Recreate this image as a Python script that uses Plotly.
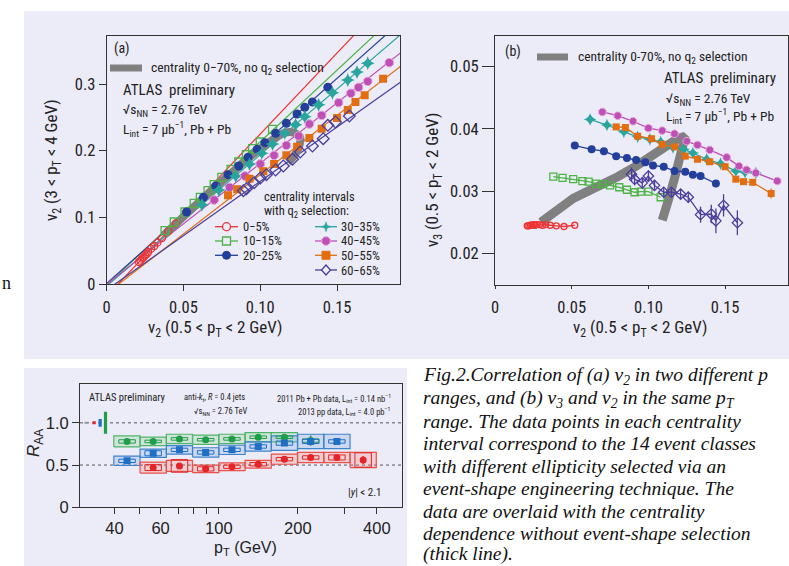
import math
import plotly.graph_objects as go

W, H = 789, 566
def PX(x): return x / W
def PY(y): return 1 - y / H

NARROW = "Liberation Sans Narrow, Roboto Condensed, Arial Narrow, Roboto, sans-serif"
SANS = "Liberation Sans, Arial, sans-serif"
SERIF = "Liberation Serif, Times New Roman, serif"
INK = "#222222"
LAV = "#ECECF8"

# ---------------- Panels (a) and (b): 14 event classes per centrality interval ----------------
cent_labels = ["0−5%", "10−15%", "20−25%", "30−35%", "40−45%", "50−55%", "60−65%"]
cent_colors = ["#EE3333", "#4DB345", "#233E9B", "#2AA59E", "#BE4FB4", "#E36E12", "#4A3F9C"]

# v2 (0.5 < pT < 2 GeV)  -> x of both panels
v2low_0_5   = [0.021, 0.022, 0.023, 0.024, 0.025, 0.026, 0.027, 0.029, 0.031, 0.033, 0.036, 0.040, 0.045, 0.052]
v2low_10_15 = [0.038, 0.044, 0.051, 0.057, 0.061, 0.066, 0.070, 0.075, 0.081, 0.086, 0.091, 0.095, 0.100, 0.108]
v2low_20_25 = [0.052, 0.063, 0.071, 0.079, 0.086, 0.092, 0.098, 0.103, 0.110, 0.117, 0.124, 0.129, 0.134, 0.144]
v2low_30_35 = [0.062, 0.073, 0.084, 0.093, 0.101, 0.108, 0.116, 0.123, 0.129, 0.138, 0.147, 0.157, 0.163, 0.170]
v2low_40_45 = [0.070, 0.080, 0.090, 0.100, 0.109, 0.117, 0.125, 0.132, 0.140, 0.151, 0.159, 0.164, 0.170, 0.184]
v2low_50_55 = [0.079, 0.085, 0.093, 0.102, 0.109, 0.117, 0.124, 0.132, 0.140, 0.150, 0.157, 0.162, 0.168, 0.180]
v2low_60_65 = [0.089, 0.091, 0.096, 0.100, 0.104, 0.110, 0.115, 0.121, 0.126, 0.134, 0.141, 0.144, 0.149, 0.158]

# v2 (3 < pT < 4 GeV) -> y of panel (a)
v2high_0_5   = [0.033, 0.035, 0.038, 0.040, 0.043, 0.045, 0.048, 0.053, 0.057, 0.062, 0.069, 0.079, 0.091, 0.108]
v2high_10_15 = [0.080, 0.093, 0.108, 0.121, 0.130, 0.140, 0.149, 0.160, 0.172, 0.183, 0.194, 0.203, 0.213, 0.232]
v2high_20_25 = [0.108, 0.130, 0.147, 0.164, 0.177, 0.190, 0.202, 0.212, 0.226, 0.241, 0.255, 0.265, 0.273, 0.295]
v2high_30_35 = [0.119, 0.141, 0.162, 0.180, 0.196, 0.210, 0.226, 0.239, 0.251, 0.269, 0.287, 0.306, 0.318, 0.331]
v2high_40_45 = [0.126, 0.145, 0.162, 0.180, 0.193, 0.208, 0.222, 0.240, 0.253, 0.272, 0.286, 0.295, 0.304, 0.332]
v2high_50_55 = [0.133, 0.142, 0.158, 0.169, 0.180, 0.193, 0.206, 0.219, 0.233, 0.249, 0.261, 0.273, 0.283, 0.308]
v2high_60_65 = [0.140, 0.143, 0.152, 0.159, 0.164, 0.171, 0.177, 0.187, 0.198, 0.207, 0.218, 0.238, 0.243, 0.252]

# v3 (0.5 < pT < 2 GeV) -> y of panel (b)
v3_0_5   = [0.0244, 0.0244, 0.0245, 0.0245, 0.0246, 0.0245, 0.0246, 0.0246, 0.0245, 0.0246, 0.0245, 0.0244, 0.0243, 0.0245]
v3_10_15 = [0.0323, 0.0321, 0.0319, 0.0316, 0.0315, 0.0312, 0.0311, 0.0309, 0.0306, 0.0302, 0.0298, 0.0299, 0.0299, 0.0290]
v3_20_25 = [0.0373, 0.0367, 0.0364, 0.0356, 0.0353, 0.0350, 0.0346, 0.0341, 0.0339, 0.0332, 0.0331, 0.0326, 0.0324, 0.0312]
v3_30_35 = [0.0415, 0.0406, 0.0395, 0.0387, 0.0383, 0.0379, 0.0370, 0.0367, 0.0361, 0.0351, 0.0344, 0.0332, 0.0330, 0.0329]
v3_40_45 = [0.0427, 0.0421, 0.0412, 0.0401, 0.0397, 0.0392, 0.0380, 0.0374, 0.0366, 0.0354, 0.0340, 0.0334, 0.0329, 0.0316]
v3_50_55 = [0.0403, 0.0402, 0.0388, 0.0384, 0.0375, 0.0371, 0.0356, 0.0351, 0.0347, 0.0339, 0.0319, 0.0315, 0.0314, 0.0296]
v3_60_65 = [0.0327, 0.0319, 0.0313, 0.0324, 0.0309, 0.0298, 0.0298, 0.0295, 0.0290, 0.0262, 0.0263, 0.0252, 0.0277, 0.0249]
v3err_50_55 = [0.0002, 0.0002, 0.0002, 0.0002, 0.0002, 0.0002, 0.0002, 0.0002, 0.0003, 0.0003, 0.0005, 0.0005, 0.0005, 0.0008]
v3err_60_65 = [0.0011, 0.0010, 0.0009, 0.0009, 0.0009, 0.0008, 0.0008, 0.0008, 0.0009, 0.0013, 0.0015, 0.0020, 0.0018, 0.0020]

# linear fits in panel (a)
fit_slope     = [2.43, 2.15, 2.05, 1.97, 1.815, 1.78, 1.63]
fit_intercept = [-0.018, -0.0017, 0.001, -0.003, -0.0005, -0.014, -0.009]

# centrality dependence without q2 selection (thick grey line)
nosel_a_v2low  = [0.037, 0.045, 0.055, 0.065, 0.075, 0.085, 0.095, 0.103, 0.110, 0.116, 0.122, 0.126, 0.1255, 0.122, 0.118]
nosel_a_v2high = [0.073, 0.090, 0.112, 0.133, 0.154, 0.174, 0.194, 0.208, 0.219, 0.227, 0.227, 0.220, 0.208, 0.192, 0.182]
nosel_b_v2low  = [0.030, 0.040, 0.051, 0.060, 0.069, 0.080, 0.092, 0.102, 0.112, 0.119, 0.124, 0.121, 0.117, 0.113, 0.109]
nosel_b_v3     = [0.0250, 0.0270, 0.0288, 0.0299, 0.0309, 0.0323, 0.0340, 0.0357, 0.0374, 0.0384, 0.0388, 0.0355, 0.0320, 0.0285, 0.0253]

v2low_all  = [v2low_0_5, v2low_10_15, v2low_20_25, v2low_30_35, v2low_40_45, v2low_50_55, v2low_60_65]
v2high_all = [v2high_0_5, v2high_10_15, v2high_20_25, v2high_30_35, v2high_40_45, v2high_50_55, v2high_60_65]
v3_all     = [v3_0_5, v3_10_15, v3_20_25, v3_30_35, v3_40_45, v3_50_55, v3_60_65]
v3err_all  = [None, None, None, None, None, v3err_50_55, v3err_60_65]

marker_styles = [
    dict(symbol="circle-open", size=7, line=dict(width=1.3)),
    dict(symbol="square-open", size=8, line=dict(width=1.3)),
    dict(symbol="circle", size=9),
    dict(symbol="star-diamond", size=10),
    dict(symbol="octagon", size=9, line=dict(width=1, color="#E6A6DC")),
    dict(symbol="square", size=8),
    dict(symbol="diamond-open", size=9, line=dict(width=1.3)),
]

# ---------------- Panel (c): jet R_AA ----------------
pt_edges   = [39.8, 50.1, 63.1, 79.4, 100.0, 125.9, 158.5, 199.5, 251.2, 316.2, 398.1]
pt_centers = [44.7, 56.2, 70.8, 89.1, 112.2, 141.3, 177.8, 223.9, 281.8, 354.8]

green_pt   = [44.7, 56.2, 70.8, 89.1, 112.2, 141.3, 177.8, 223.9]
green_raa  = [0.78, 0.78, 0.81, 0.80, 0.81, 0.83, 0.83, 0.79]
green_stat = [0.02, 0.02, 0.025, 0.02, 0.025, 0.02, 0.03, 0.06]
green_box  = [0.02, 0.015, 0.015, 0.015, 0.015, 0.015, 0.015, 0.02]
green_sys  = [0.065, 0.05, 0.055, 0.055, 0.055, 0.055, 0.055, None]

blue_pt   = [44.7, 56.2, 70.8, 89.1, 112.2, 141.3, 177.8, 223.9, 281.8]
blue_raa  = [0.55, 0.64, 0.68, 0.65, 0.68, 0.72, 0.76, 0.78, 0.78]
blue_stat = [0.015, 0.02, 0.015, 0.015, 0.015, 0.015, 0.02, 0.03, 0.035]
blue_box  = [0.02, 0.03, 0.02, 0.02, 0.02, 0.02, 0.025, 0.025, 0.02]
blue_sys  = [0.055, 0.05, 0.05, 0.055, 0.055, 0.055, 0.085, 0.085, 0.085]

red_pt   = [56.2, 70.8, 89.1, 112.2, 141.3, 177.8, 223.9, 281.8, 354.8]
red_raa  = [0.47, 0.49, 0.455, 0.48, 0.51, 0.57, 0.59, 0.59, 0.56]
red_stat = [0.015, 0.02, 0.015, 0.015, 0.015, 0.015, 0.02, 0.025, 0.045]
red_box  = [0.035, 0.075, 0.025, 0.02, 0.02, 0.02, 0.02, 0.03, 0.085]
red_sys  = [0.065, 0.065, 0.045, 0.045, 0.045, 0.06, 0.06, 0.06, 0.09]

norm_pt     = [31.2, 33.5, 35.3, 37.0]
norm_err    = [0.012, 0.018, 0.045, 0.13]
norm_colors = ["#9A9A9A", "#E32428", "#1F6FC4", "#1E9E48"]
ref_levels  = [1.0, 0.5]

raa_series = [
    dict(pt=green_pt, raa=green_raa, stat=green_stat, box=green_box, sys=green_sys,
         color="#1E9E48", fill="rgba(150,210,150,0.30)", edge="#4DB56A", symbol="circle"),
    dict(pt=blue_pt, raa=blue_raa, stat=blue_stat, box=blue_box, sys=blue_sys,
         color="#1F6FC4", fill="rgba(130,165,225,0.30)", edge="#3F82CC", symbol="square"),
    dict(pt=red_pt, raa=red_raa, stat=red_stat, box=red_box, sys=red_sys,
         color="#E32428", fill="rgba(245,140,125,0.30)", edge="#E8504A", symbol="circle"),
]

fig = go.Figure()

# ---- panel (a) ----
for i in range(7):
    xs = [0.0, 0.2]
    ys = [fit_intercept[i] + fit_slope[i] * x for x in xs]
    fig.add_trace(go.Scatter(x=xs, y=ys, mode="lines", line=dict(color=cent_colors[i], width=1.2),
                             xaxis="x", yaxis="y", hoverinfo="skip"))
fig.add_trace(go.Scatter(x=nosel_a_v2low, y=nosel_a_v2high, mode="lines",
                         line=dict(color="#808080", width=8, shape="spline"), xaxis="x", yaxis="y"))
for i in range(7):
    m = dict(marker_styles[i]); m["color"] = cent_colors[i]
    fig.add_trace(go.Scatter(x=v2low_all[i], y=v2high_all[i], mode="markers", marker=m,
                             name=cent_labels[i], xaxis="x", yaxis="y"))

# ---- panel (b) ----
fig.add_trace(go.Scatter(x=nosel_b_v2low, y=nosel_b_v3, mode="lines",
                         line=dict(color="#808080", width=9), xaxis="x2", yaxis="y2"))
for i in range(7):
    m = dict(marker_styles[i]); m["color"] = cent_colors[i]
    m["size"] = m["size"] - 1
    err = v3err_all[i]
    fig.add_trace(go.Scatter(x=v2low_all[i], y=v3_all[i], mode="lines+markers", marker=m,
                             line=dict(color=cent_colors[i], width=1.3), name=cent_labels[i],
                             error_y=(dict(type="data", array=err, color=cent_colors[i], thickness=1.3, width=0)
                                      if err else None),
                             xaxis="x2", yaxis="y2"))

# ---- panel (c) ----
for s in raa_series:
    bx, by = [], []
    for c, r, e in zip(s["pt"], s["raa"], s["sys"]):
        if e is None:
            continue
        k = pt_centers.index(c)
        lo, hi = pt_edges[k], pt_edges[k + 1]
        bx += [lo, hi, hi, lo, lo, None]
        by += [r - e, r - e, r + e, r + e, r - e, None]
    fig.add_trace(go.Scatter(x=bx, y=by, mode="lines", fill="toself", fillcolor=s["fill"],
                             line=dict(color=s["edge"], width=1.2), xaxis="x3", yaxis="y3", hoverinfo="skip"))
for s in raa_series:
    qx, qy = [], []
    for c, r, b in zip(s["pt"], s["raa"], s["box"]):
        lo, hi = c / 1.075, c * 1.075
        qx += [lo, hi, hi, lo, lo, None]
        qy += [r - b, r - b, r + b, r + b, r - b, None]
    fig.add_trace(go.Scatter(x=qx, y=qy, mode="lines", line=dict(color=s["color"], width=1),
                             xaxis="x3", yaxis="y3", hoverinfo="skip"))
    fig.add_trace(go.Scatter(x=s["pt"], y=s["raa"], mode="markers",
                             marker=dict(symbol=s["symbol"], size=7, color=s["color"]),
                             error_y=dict(type="data", array=s["stat"], color=s["color"], thickness=1.6, width=0),
                             xaxis="x3", yaxis="y3"))
for p, e, c in zip(norm_pt, norm_err, norm_colors):
    fig.add_trace(go.Scatter(x=[p, p], y=[1 - e, 1 + e], mode="lines", line=dict(color=c, width=3.2),
                             xaxis="x3", yaxis="y3", hoverinfo="skip"))

# ---------------- layout ----------------
axc = dict(showline=True, linecolor="#333", linewidth=1, mirror=True, ticks="outside",
           tickcolor="#333", showgrid=False, zeroline=False, automargin=False)
tf_ab = dict(family=NARROW, size=16.5, color=INK)
tf_c = dict(family=SANS, size=16.5, color=INK)

fig.update_layout(
    width=W, height=H, autosize=False, margin=dict(l=0, r=0, t=0, b=0, pad=0, autoexpand=False),
    paper_bgcolor="white", plot_bgcolor="rgba(0,0,0,0)", showlegend=False,
    xaxis=dict(axc, domain=[PX(106.7), PX(400)], anchor="y", range=[0, 0.191],
               tickvals=[0, 0.05, 0.10, 0.15], ticktext=["0", "0.05", "0.10", "0.15"],
               ticklen=6, tickfont=tf_ab, ticklabelstandoff=2),
    yaxis=dict(axc, domain=[PY(284), PY(36)], anchor="x", range=[0, 0.372],
               tickvals=[0, 0.1, 0.2, 0.3], ticktext=["0", "0.1", "0.2", "0.3"], ticklen=7, tickfont=tf_ab),
    xaxis2=dict(axc, domain=[PX(495), PX(788)], anchor="y2", range=[0, 0.191],
                tickvals=[0, 0.05, 0.10, 0.15], ticktext=["0", "0.05", "0.10", "0.15"],
                ticklen=3, tickfont=tf_ab, ticklabelstandoff=4),
    yaxis2=dict(axc, domain=[PY(285), PY(36)], anchor="x2", range=[0.0149, 0.0549],
                tickvals=[0.02, 0.03, 0.04, 0.05], ticktext=["0.02", "0.03", "0.04", "0.05"],
                ticklen=12, tickfont=tf_ab),
    xaxis3=dict(axc, domain=[PX(80), PX(402)], anchor="y3", type="log", range=[1.471, 2.698],
                tickvals=[40, 50, 60, 70, 80, 90, 100, 200, 300, 400],
                ticktext=["40", "", "60", "", "", "", "100", "200", "", "400"],
                ticklen=6, tickfont=tf_c, ticklabelstandoff=0),
    yaxis3=dict(axc, domain=[PY(507.3), PY(384)], anchor="x3", range=[0, 1.46],
                tickvals=[0, 0.5, 1.0], ticktext=["0", "0.5", "1.0"], ticklen=7, tickfont=tf_c),
)

shapes = [
    dict(type="rect", xref="paper", yref="paper", x0=PX(24), x1=1, y0=PY(359), y1=PY(11),
         fillcolor=LAV, line=dict(width=0), layer="below"),
    dict(type="rect", xref="paper", yref="paper", x0=PX(24), x1=PX(407), y0=0, y1=PY(368),
         fillcolor=LAV, line=dict(width=0), layer="below"),
]
for lv in ref_levels:
    shapes.append(dict(type="line", xref="x3 domain", yref="y3", x0=0, x1=1, y0=lv, y1=lv,
                       line=dict(color="#555", width=1, dash="dot"), layer="below"))

# grey "no q2 selection" legend swatches
for (x0, x1, yy) in [(110, 142, 68), (537, 568, 57)]:
    shapes.append(dict(type="line", xref="paper", yref="paper", x0=PX(x0), x1=PX(x1), y0=PY(yy), y1=PY(yy),
                       line=dict(color="#808080", width=7)))

def poly_path(pts):
    return "M" + "L".join(f"{PX(x):.5f},{PY(y):.5f}" for x, y in pts) + "Z"

def legend_marker(kind, cx, cy, color):
    r = 4
    box = dict(xref="paper", yref="paper", x0=PX(cx - r), x1=PX(cx + r), y0=PY(cy + r), y1=PY(cy - r))
    if kind == "circle-open":
        return dict(type="circle", line=dict(color=color, width=1.3), fillcolor=LAV, **box)
    if kind == "square-open":
        return dict(type="rect", line=dict(color=color, width=1.3), fillcolor=LAV, **box)
    if kind == "circle":
        return dict(type="circle", line=dict(color=color, width=1), fillcolor=color, **box)
    if kind == "square":
        return dict(type="rect", line=dict(color=color, width=1), fillcolor=color, **box)
    if kind == "star-diamond":
        pts = []
        for k in range(8):
            a = math.pi / 2 + k * math.pi / 4
            rr = 5 if k % 2 == 0 else 1.8
            pts.append((cx + rr * math.cos(a), cy - rr * math.sin(a)))
        return dict(type="path", xref="paper", yref="paper", path=poly_path(pts),
                    fillcolor=color, line=dict(color=color, width=0.5))
    if kind == "octagon":
        pts = [(cx + 4.5 * math.cos(math.pi / 8 + k * math.pi / 4), cy - 4.5 * math.sin(math.pi / 8 + k * math.pi / 4))
               for k in range(8)]
        return dict(type="path", xref="paper", yref="paper", path=poly_path(pts),
                    fillcolor=color, line=dict(color="#E6A6DC", width=1))
    pts = [(cx, cy - 5), (cx + 4.5, cy), (cx, cy + 5), (cx - 4.5, cy)]
    return dict(type="path", xref="paper", yref="paper", path=poly_path(pts),
                fillcolor=LAV, line=dict(color=color, width=1.3))

annotations = []
def txt(s, x, y, size=12, family=NARROW, xanchor="left", color=INK, angle=0):
    annotations.append(dict(text=s, x=PX(x), y=PY(y), xref="paper", yref="paper", xanchor=xanchor,
                            yanchor="middle", showarrow=False, textangle=angle, borderpad=0,
                            font=dict(size=size, family=family, color=color)))

legend_cols = [(215, 238, 241.5), (315, 337, 340)]
legend_rows_y = [226.7, 241, 255.3, 270]
legend_place = [(0, 0), (0, 1), (0, 2), (1, 0), (1, 1), (1, 2), (1, 3)]
for i, (col, row) in enumerate(legend_place):
    x0, x1, xt = legend_cols[col]
    yy = legend_rows_y[row]
    shapes.append(dict(type="line", xref="paper", yref="paper", x0=PX(x0), x1=PX(x1), y0=PY(yy), y1=PY(yy),
                       line=dict(color=cent_colors[i], width=1.3)))
    shapes.append(legend_marker(marker_styles[i]["symbol"], (x0 + x1) / 2, yy, cent_colors[i]))
    txt(cent_labels[i], xt, yy, size=12.5)

# panel (a) texts
txt("(a)", 113, 49, size=14)
txt("centrality 0−70%, no q<sub>2</sub> selection", 150, 68, size=13.5)
txt("ATLAS  preliminary", 122, 90, size=15)
txt("√s<sub>NN</sub> = 2.76 TeV", 122, 110, size=13.5)
txt("L<sub>int</sub> = 7 μb<sup>−1</sup>, Pb + Pb", 122, 128.5, size=13.5)
txt("centrality intervals", 263, 196, size=12.5)
txt("with q<sub>2</sub> selection:", 263, 211, size=12.5)
txt("v<sub>2</sub> (0.5 &lt; p<sub>T</sub> &lt; 2 GeV)", 215, 328, size=17, xanchor="center")
txt("v<sub>2</sub> (3 &lt; p<sub>T</sub> &lt; 4 GeV)", 52, 160, size=17, xanchor="center", angle=-90)

# panel (b) texts
txt("(b)", 504, 52, size=14)
txt("centrality 0-70%, no q<sub>2</sub> selection", 577, 57, size=13.5)
txt("ATLAS  preliminary", 663, 78, size=15)
txt("√s<sub>NN</sub> = 2.76 TeV", 665, 99, size=13.5)
txt("L<sub>int</sub> = 7 μb<sup>−1</sup>, Pb + Pb", 665, 116, size=13.5)
txt("v<sub>2</sub> (0.5 &lt; p<sub>T</sub> &lt; 2 GeV)", 640, 328, size=17, xanchor="center")
txt("v<sub>3</sub> (0.5 &lt; p<sub>T</sub> &lt; 2 GeV)", 433, 180, size=17, xanchor="center", angle=-90)

# panel (c) texts
txt("ATLAS preliminary", 88, 397.5, size=10.5)
txt("anti-<i>k</i><sub>t</sub>, <i>R</i> = 0.4 jets", 183, 397.5, size=8.5)
txt("√s<sub>NN</sub> = 2.76 TeV", 193, 411.5, size=8.5)
txt("2011 Pb + Pb data, L<sub>int</sub> = 0.14 nb<sup>−1</sup>", 392, 397.5, size=8.5, xanchor="right")
txt("2013 pp data, L<sub>int</sub> = 4.0 pb<sup>−1</sup>", 391, 411.5, size=8.5, xanchor="right")
txt("|<i>y</i>| &lt; 2.1", 347, 492, size=11)
txt("<i>R</i><sub>AA</sub>", 35, 443, size=17, family=SANS, xanchor="center", angle=-90)
txt("p<sub>T</sub> (GeV)", 245, 548, size=16, family=SANS, xanchor="center")

# caption (every line kept inside the 789x566 page)
caption_lines = [
    "Fig.2.Correlation of (a) v<sub>2</sub> in two different p",
    "ranges, and (b) v<sub>3</sub> and v<sub>2</sub> in the same p<sub>T</sub>",
    "range. The data points in each centrality",
    "interval correspond to the 14 event classes",
    "with different ellipticity selected via an",
    "event-shape engineering technique. The",
    "data are overlaid with the centrality",
    "dependence without event-shape selection",
    "(thick line).",
]
caption_y = [376, 398.5, 421, 443.5, 466, 488.5, 511, 533, 554]
for line, yy in zip(caption_lines, caption_y):
    txt("<i>" + line + "</i>", 422, yy, size=19.5, family=SERIF, color="#111")

txt("n", 12, 283, size=18, family=SERIF, xanchor="right", color="#111")

fig.update_layout(shapes=shapes, annotations=annotations)

fix_js = """
document.documentElement.style.margin='0';
document.documentElement.style.overflow='hidden';
document.body.style.margin='0';
document.body.style.padding='0';
document.body.style.overflow='hidden';
var gd=document.querySelector('.plotly-graph-div');
gd.style.overflow='hidden';
"""
fig.write_html("out.html", config={"responsive": False, "displayModeBar": False}, post_script=fix_js)
